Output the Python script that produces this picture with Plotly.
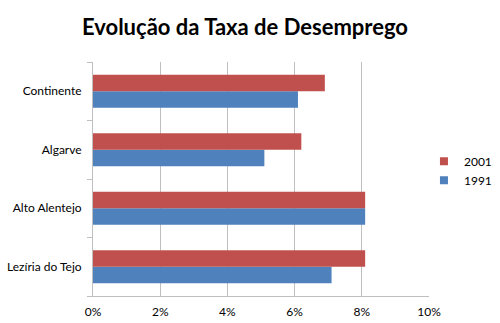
import plotly.graph_objects as go

# Unemployment rate by region (%), listed bottom-to-top as plotly draws categories
regions = ["Lezíria do Tejo", "Alto Alentejo", "Algarve", "Continente"]
rate_1991 = [7.1, 8.1, 5.1, 6.1]
rate_2001 = [8.1, 8.1, 6.2, 6.9]
x_ticks = [0, 2, 4, 6, 8, 10]
x_tick_labels = ["0%", "2%", "4%", "6%", "8%", "10%"]

FONT = "Lato, Open Sans, sans-serif"
BLUE = "#4F81BD"
RED = "#C0504D"

fig = go.Figure()
fig.add_trace(go.Bar(
    y=regions, x=rate_1991, name="1991", orientation="h",
    marker=dict(color=BLUE, line=dict(width=0)), showlegend=False,
))
fig.add_trace(go.Bar(
    y=regions, x=rate_2001, name="2001", orientation="h",
    marker=dict(color=RED, line=dict(width=0)), showlegend=False,
))
# small square legend keys
for name, color in (("1991", BLUE), ("2001", RED)):
    fig.add_trace(go.Scatter(
        x=[None], y=[None], mode="markers", name=name,
        marker=dict(symbol="square", size=8, color=color),
    ))

fig.update_layout(
    width=500, height=323,
    paper_bgcolor="white", plot_bgcolor="white",
    margin=dict(l=93, r=71, t=62, b=27, autoexpand=False),
    barmode="group", bargap=0.44, bargroupgap=0,
    title=dict(
        text="<b>Evolução da Taxa de Desemprego</b>",
        x=0.49, xanchor="center", y=0.915, yanchor="middle",
        font=dict(family=FONT, size=22, color="black"),
    ),
    legend=dict(
        x=0.985, y=0.535, xanchor="left", yanchor="middle",
        traceorder="reversed", tracegroupgap=0,
        font=dict(family=FONT, size=12, color="black"),
        itemwidth=30, bgcolor="rgba(0,0,0,0)",
    ),
    font=dict(family=FONT, size=12, color="black"),
)

fig.update_xaxes(
    range=[0, 10], tickvals=x_ticks, ticktext=x_tick_labels,
    showgrid=True, gridcolor="#BFBFBF", gridwidth=1,
    zeroline=False, showline=True, linecolor="#BFBFBF",
    ticks="", tickfont=dict(family=FONT, size=12, color="black"),
    ticklabelstandoff=5,
)
fig.update_yaxes(
    type="category", tickson="boundaries",
    ticks="outside", ticklen=5, tickcolor="#BFBFBF",
    showgrid=False, showline=True, linecolor="#BFBFBF",
    tickfont=dict(family=FONT, size=12, color="black"),
    ticklabelstandoff=8,
)

fig.write_html("out.html")
